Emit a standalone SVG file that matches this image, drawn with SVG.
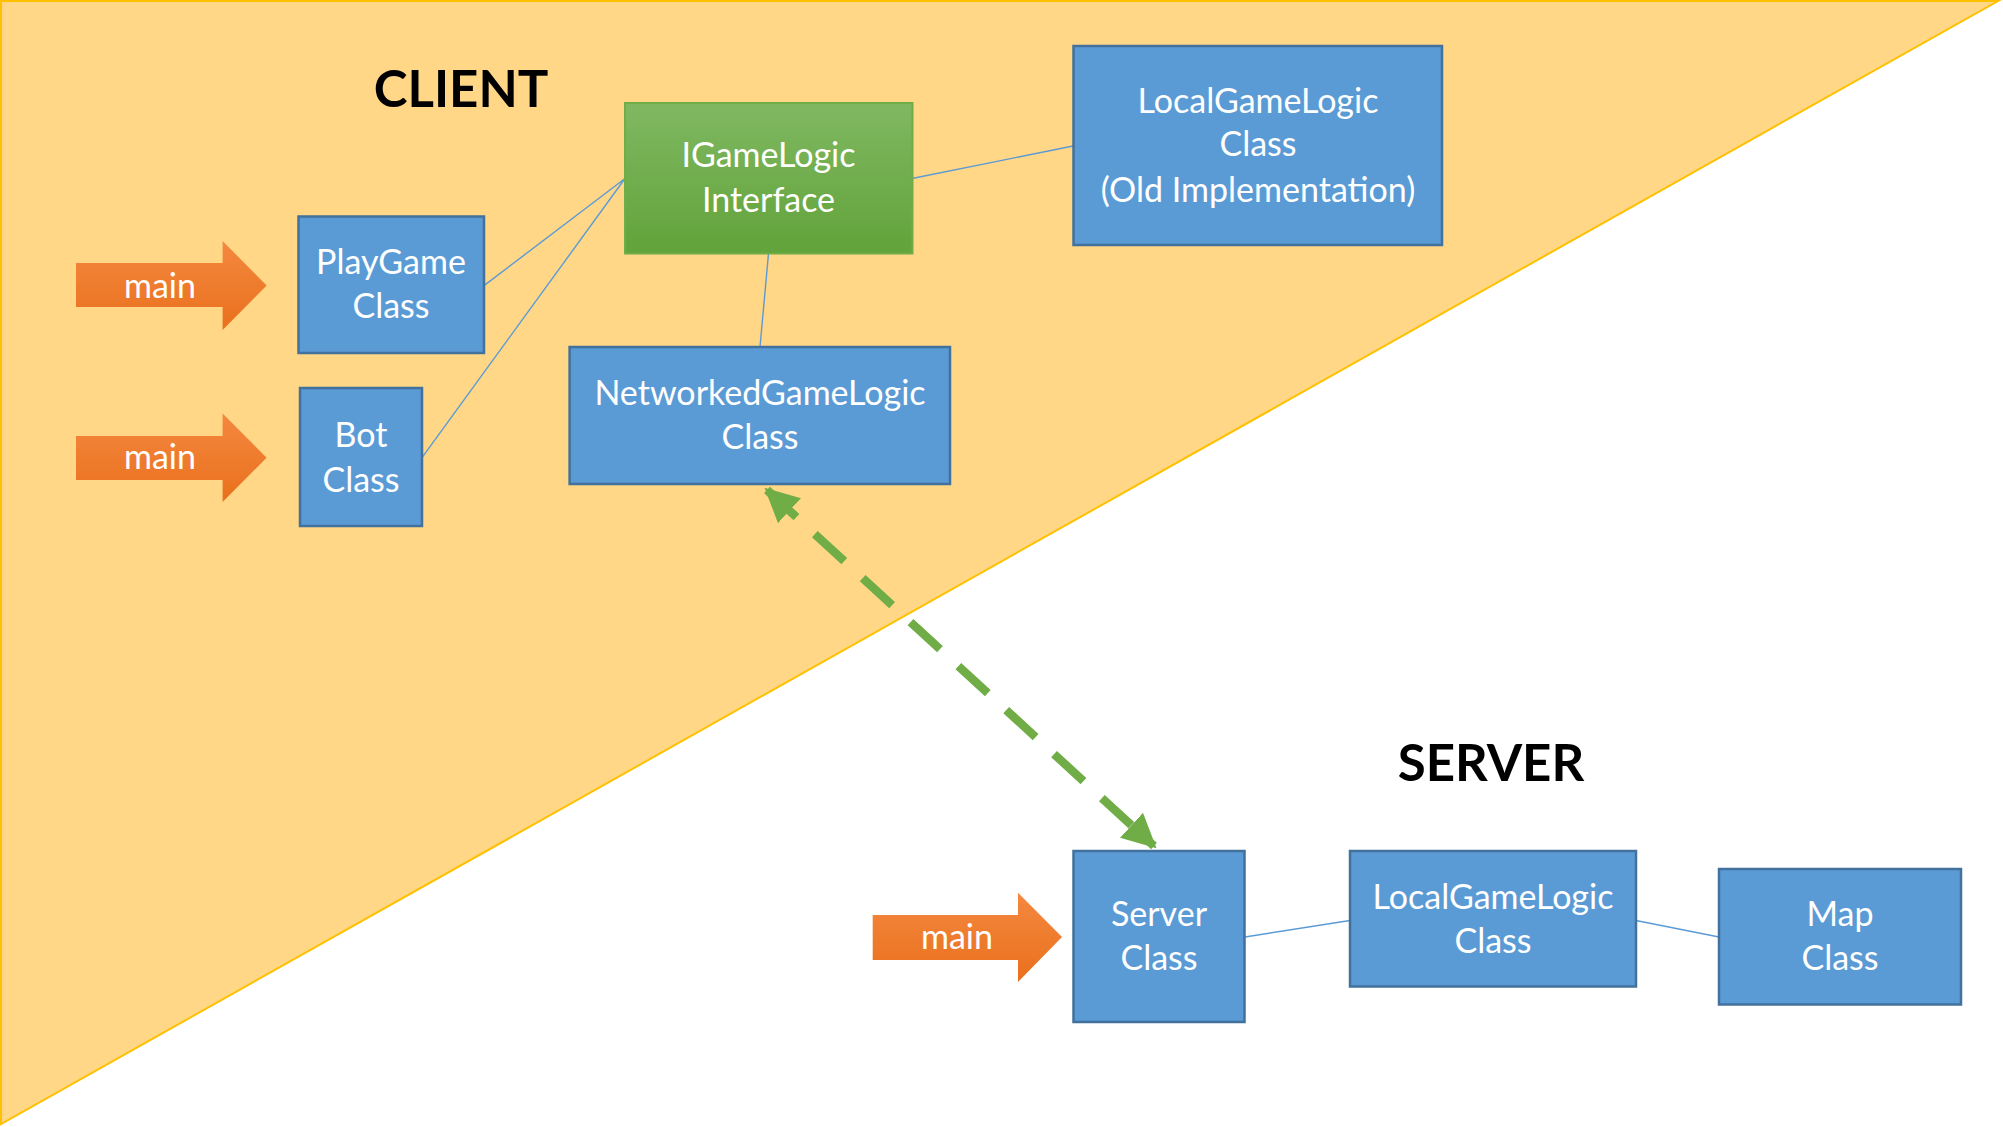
<svg xmlns="http://www.w3.org/2000/svg" width="2003" height="1127" viewBox="0 0 2003 1127">
<defs>
<linearGradient id="gGreen" x1="0" y1="0" x2="0" y2="1"><stop offset="0" stop-color="#80B862"/><stop offset="1" stop-color="#62A33A"/></linearGradient>
<linearGradient id="gOrange" x1="0" y1="0" x2="0" y2="1"><stop offset="0" stop-color="#F4883F"/><stop offset="1" stop-color="#E9701D"/></linearGradient>
<marker id="ah" viewBox="0 0 10 10" refX="9" refY="5" markerWidth="4" markerHeight="4" orient="auto-start-reverse" markerUnits="strokeWidth"><path d="M0,0 L10,5 L0,10 Z" fill="#70AD47"/></marker>
</defs>
<style>
.box{fill:#5B9BD5;stroke:#41719C;stroke-width:2.5}
.t{font-family:Lato,"Open Sans","Liberation Sans",sans-serif;font-size:34px;fill:#FFFFFF;text-anchor:middle}
.h{font-family:Lato,"Open Sans","Liberation Sans",sans-serif;font-size:51px;font-weight:bold;fill:#000000;text-anchor:middle}
.ln{stroke:#5B9BD5;stroke-width:1.4;fill:none}
.arr{fill:url(#gOrange)}
</style>
<rect x="0" y="0" width="2003" height="1127" fill="#FFFFFF"/>
<polygon points="1,1 1998,1 1,1124" fill="#FFD787" stroke="#FFC000" stroke-width="2"/>

<g id="connectors">
<line class="ln" x1="484" y1="285.6" x2="625" y2="178.5"/>
<line class="ln" x1="422" y1="457.7" x2="625" y2="178.5"/>
<line class="ln" x1="768.5" y1="253.5" x2="760" y2="347"/>
<line class="ln" x1="912" y1="178.5" x2="1073" y2="146"/>
<line class="ln" x1="1245" y1="937" x2="1350" y2="920.5"/>
<line class="ln" x1="1636" y1="920.5" x2="1719" y2="937"/>
<line x1="767" y1="490" x2="1154" y2="846" stroke="#70AD47" stroke-width="8.5" stroke-dasharray="40 25" marker-start="url(#ah)" marker-end="url(#ah)"/>
</g>

<g id="label-client"><text class="h" x="461" y="107">CLIENT</text></g>
<g id="label-server"><text class="h" x="1491" y="781">SERVER</text></g>

<g id="main1"><polygon class="arr" points="76,263 222.6,263 222.6,241 266.6,285.6 222.6,330 222.6,307 76,307"/><text class="t" x="160" y="297.5">main</text></g>
<g id="main2"><polygon class="arr" points="76,436 222.6,436 222.6,413.6 266.6,457.7 222.6,502 222.6,480 76,480"/><text class="t" x="160" y="468.5">main</text></g>
<g id="main3"><polygon class="arr" points="872.7,915 1018,915 1018,892.7 1062,937 1018,982 1018,960 872.7,960"/><text class="t" x="957" y="949">main</text></g>

<g id="igamelogic"><rect x="625" y="103" width="287.5" height="150.5" fill="url(#gGreen)" stroke="#70AD47" stroke-width="2"/><text class="t" x="768.5" y="166.7">IGameLogic</text><text class="t" x="768.5" y="212.4">Interface</text></g>
<g id="localgamelogic-old"><rect class="box" x="1073.5" y="46" width="368.5" height="199"/><text class="t" x="1258" y="112.5">LocalGameLogic</text><text class="t" x="1258" y="156.4">Class</text><text class="t" x="1258" y="201.7">(Old Implementation)</text></g>
<g id="playgame"><rect class="box" x="298.5" y="216.5" width="185.5" height="136.5"/><text class="t" x="391" y="274">PlayGame</text><text class="t" x="391" y="318">Class</text></g>
<g id="bot"><rect class="box" x="300" y="388" width="122" height="138"/><text class="t" x="361" y="447">Bot</text><text class="t" x="361" y="491.6">Class</text></g>
<g id="networked"><rect class="box" x="569.6" y="347" width="380.4" height="137"/><text class="t" x="760" y="405">NetworkedGameLogic</text><text class="t" x="760" y="449">Class</text></g>
<g id="server"><rect class="box" x="1073.5" y="851" width="171" height="171"/><text class="t" x="1159" y="926">Server</text><text class="t" x="1159" y="970">Class</text></g>
<g id="localgamelogic"><rect class="box" x="1350" y="851" width="286" height="135.5"/><text class="t" x="1493" y="909">LocalGameLogic</text><text class="t" x="1493" y="953">Class</text></g>
<g id="map"><rect class="box" x="1719" y="869" width="242" height="135.5"/><text class="t" x="1840" y="926">Map</text><text class="t" x="1840" y="970">Class</text></g>
</svg>
